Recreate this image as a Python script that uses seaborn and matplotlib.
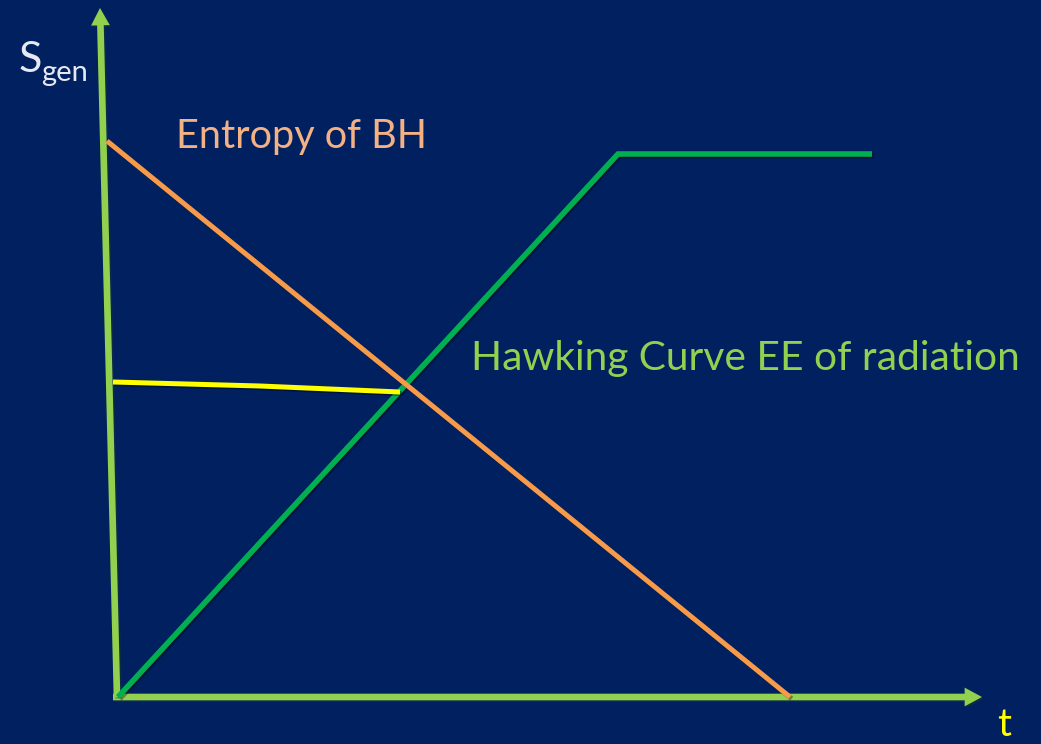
import matplotlib
matplotlib.use("Agg")
import matplotlib.pyplot as plt
import matplotlib.patheffects as pe
from matplotlib.patches import FancyArrowPatch
import pandas as pd
import seaborn as sns

# Diagram coordinates (t to the right, S upward)
bh_t = [107, 790]
bh_s = [603, 47]

hawking_t = [118, 618, 872]
hawking_s = [47, 590, 590]

page_t = [113, 260, 400]
page_s = [362, 358, 352]

t_axis = [(113, 47), (982, 47)]
s_axis = [(117, 47), (100, 736)]

BG = "#002060"
AXIS = "#92D050"
GREEN = "#00B050"
ORANGE = "#F79A4A"
ORANGE_TXT = "#F4B183"
YELLOW = "#FFFF00"

sns.set_theme(style="white")
plt.rcParams["font.family"] = ["Lato", "DejaVu Sans"]

fig = plt.figure(figsize=(10.41, 7.44), dpi=100, facecolor=BG)
ax = fig.add_axes([0, 0, 1, 1])
ax.set_facecolor(BG)
ax.set_xlim(0, 1041)
ax.set_ylim(0, 744)
ax.axis("off")

shadow = [pe.SimpleLineShadow(offset=(1.2, -1.2), shadow_color="black", alpha=0.35), pe.Normal()]

# Axes with arrow heads
for (x0, y0), (x1, y1) in (t_axis, s_axis):
    arr = FancyArrowPatch((x0, y0), (x1, y1),
                          arrowstyle="simple,head_length=1.25,head_width=1.35,tail_width=0.48",
                          mutation_scale=10, color=AXIS, lw=0, zorder=2,
                          shrinkA=0, shrinkB=0)
    arr.set_path_effects([pe.SimplePatchShadow(offset=(1.2, -1.2), alpha=0.35), pe.Normal()])
    ax.add_patch(arr)

curves = [
    (pd.DataFrame({"t": hawking_t, "S": hawking_s}), GREEN, 4.0, 3),
    (pd.DataFrame({"t": bh_t, "S": bh_s}), ORANGE, 3.6, 4),
    (pd.DataFrame({"t": page_t, "S": page_s}), YELLOW, 3.6, 5),
]
for df, col, lw, z in curves:
    sns.lineplot(data=df, x="t", y="S", sort=False, estimator=None, color=col,
                 linewidth=lw, ax=ax, zorder=z, solid_capstyle="butt")
    ax.lines[-1].set_path_effects(shadow)
    ax.lines[-1].set_solid_joinstyle("miter")

ax.set_xlabel("")
ax.set_ylabel("")
ax.set_xlim(0, 1041)
ax.set_ylim(0, 744)

# Labels
ax.text(19, 672, "S", color="#E6E8F2", fontsize=31, ha="left", va="baseline")
ax.text(41, 663, "gen", color="#E6E8F2", fontsize=21, ha="left", va="baseline")
ax.text(176, 596, "Entropy of BH", color=ORANGE_TXT, fontsize=28.5, ha="left", va="baseline")
ax.text(471, 374, "Hawking Curve EE of radiation", color=AXIS, fontsize=29.3,
        ha="left", va="baseline")
ax.text(997, 1, "t", color=YELLOW, fontsize=28, ha="left", va="bottom")

fig.savefig("out.png", dpi=100, facecolor=BG)
